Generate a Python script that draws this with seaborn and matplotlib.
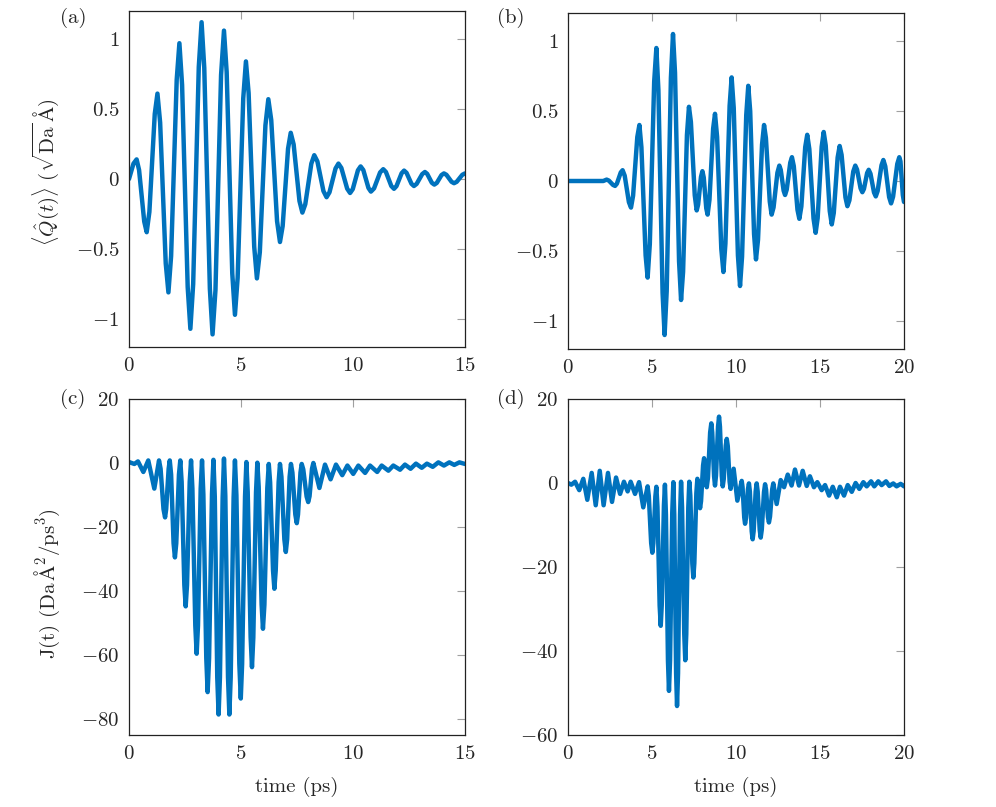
import matplotlib
matplotlib.use('Agg')
import matplotlib.pyplot as plt
import seaborn as sns

sns.set_style('white')
plt.rcParams['font.family'] = 'serif'
plt.rcParams['font.serif'] = ['cmr10', 'DejaVu Serif']
plt.rcParams['mathtext.fontset'] = 'cm'
plt.rcParams['axes.formatter.use_mathtext'] = True

# (a) <Q(t)>, excitation 1 (extrema + shoulders)
a_time = [0.0, 0.2, 0.34, 0.45, 0.68, 0.79, 0.91, 1.15, 1.27, 1.39, 1.64, 1.76, 1.88, 2.13,
          2.25, 2.37, 2.62, 2.74, 2.865, 3.115, 3.24, 3.36, 3.61, 3.73, 3.86, 4.11, 4.24,
          4.36, 4.61, 4.73, 4.85, 5.10, 5.22, 5.34, 5.59, 5.71, 5.84, 6.09, 6.22, 6.35,
          6.61, 6.74, 6.86, 7.10, 7.22, 7.35, 7.61, 7.74, 7.87, 8.14, 8.27, 8.41, 8.68,
          8.82, 8.95, 9.22, 9.35, 9.48, 9.74, 9.87, 9.99, 10.22, 10.34, 10.46, 10.69, 10.8,
          10.94, 11.21, 11.35, 11.47, 11.71, 11.83, 11.94, 12.17, 12.28, 12.39, 12.61,
          12.72, 12.84, 13.09, 13.21, 13.31, 13.52, 13.63, 13.74, 13.95, 14.06, 14.17,
          14.40, 14.51, 14.63, 14.88, 15.0]
a_q = [0.0, 0.11, 0.14, 0.064, -0.304, -0.38, -0.235, 0.465, 0.61, 0.403, -0.603, -0.81,
       -0.55, 0.71, 0.97, 0.672, -0.772, -1.07, -0.75, 0.80, 1.12, 0.794, -0.784, -1.11,
       -0.793, 0.743, 1.06, 0.764, -0.674, -0.97, -0.706, 0.576, 0.84, 0.614, -0.484,
       -0.71, -0.523, 0.383, 0.57, 0.421, -0.301, -0.45, -0.336, 0.216, 0.33, 0.247,
       -0.157, -0.24, -0.18, 0.11, 0.17, 0.126, -0.086, -0.13, -0.095, 0.075, 0.11, 0.079,
       -0.069, -0.10, -0.072, 0.062, 0.09, 0.064, -0.064, -0.09, -0.067, 0.047, 0.07, 0.05,
       -0.05, -0.07, -0.051, 0.041, 0.06, 0.044, -0.034, -0.05, -0.035, 0.035, 0.05,
       0.037, -0.027, -0.04, -0.028, 0.028, 0.04, 0.03, -0.02, -0.03, -0.02, 0.03, 0.04]

# (b) <Q(t)>, excitation 2
b_time = [0.0, 2.1, 2.3, 2.43, 2.68, 2.8, 2.91, 3.14, 3.25, 3.375, 3.625, 3.75, 3.875,
          4.125, 4.25, 4.37, 4.62, 4.74, 4.87, 5.13, 5.26, 5.38, 5.63, 5.75, 5.875, 6.125,
          6.25, 6.37, 6.61, 6.73, 6.85, 7.08, 7.2, 7.315, 7.545, 7.66, 7.745, 7.915, 8.0,
          8.08, 8.23, 8.31, 8.42, 8.64, 8.75, 8.875, 9.125, 9.25, 9.37, 9.62, 9.74, 9.865,
          10.115, 10.24, 10.36, 10.61, 10.73, 10.845, 11.075, 11.19, 11.31, 11.55, 11.67,
          11.78, 12.01, 12.12, 12.235, 12.465, 12.58, 12.665, 12.835, 12.92, 13.02, 13.23,
          13.33, 13.44, 13.66, 13.77, 13.89, 14.12, 14.24, 14.365, 14.615, 14.74, 14.86,
          15.10, 15.22, 15.34, 15.58, 15.7, 15.82, 16.05, 16.17, 16.285, 16.515, 16.63,
          16.75, 16.98, 17.1, 17.205, 17.415, 17.52, 17.615, 17.805, 17.9, 18.005, 18.215,
          18.32, 18.43, 18.66, 18.77, 18.885, 19.115, 19.23, 19.35, 19.6, 19.72, 19.79,
          19.93, 20.0]
b_q = [0.0, 0.0, 0.01, 0.003, -0.028, -0.035, -0.019, 0.061, 0.077, 0.038, -0.151, -0.19,
       -0.104, 0.314, 0.40, 0.241, -0.531, -0.69, -0.45, 0.71, 0.95, 0.651, -0.80, -1.10,
       -0.786, 0.736, 1.05, 0.773, -0.573, -0.85, -0.649, 0.329, 0.53, 0.422, -0.102,
       -0.21, -0.169, 0.029, 0.07, 0.025, -0.195, -0.24, -0.135, 0.375, 0.48, 0.315,
       -0.485, -0.65, -0.447, 0.537, 0.74, 0.522, -0.532, -0.75, -0.541, 0.471, 0.68,
       0.499, -0.379, -0.56, -0.42, 0.26, 0.40, 0.307, -0.147, -0.24, -0.189, 0.059, 0.11,
       0.079, -0.069, -0.10, -0.061, 0.131, 0.17, 0.106, -0.206, -0.27, -0.182, 0.242,
       0.33, 0.228, -0.268, -0.37, -0.265, 0.245, 0.35, 0.254, -0.214, -0.31, -0.228,
       0.168, 0.25, 0.187, -0.117, -0.18, -0.138, 0.068, 0.11, 0.082, -0.052, -0.08,
       -0.057, 0.057, 0.08, 0.052, -0.082, -0.11, -0.072, 0.112, 0.15, 0.105, -0.115,
       -0.16, -0.112, 0.122, 0.17, 0.14, -0.10, -0.15]

# (c) J(t), excitation 1
c_time = [0.0, 0.24, 0.4, 0.64, 0.86, 1.13, 1.34, 1.41, 1.54, 1.61, 1.66, 1.77, 1.82, 1.88,
          1.99, 2.05, 2.11, 2.23, 2.29, 2.35, 2.47, 2.53, 2.59, 2.71, 2.77, 2.83, 2.96,
          3.02, 3.08, 3.20, 3.26, 3.32, 3.45, 3.51, 3.575, 3.705, 3.77, 3.83, 3.94, 4.0,
          4.06, 4.18, 4.24, 4.30, 4.42, 4.48, 4.54, 4.67, 4.73, 4.795, 4.925, 4.99, 5.05,
          5.18, 5.24, 5.30, 5.43, 5.49, 5.55, 5.67, 5.73, 5.79, 5.92, 5.98, 6.045, 6.175,
          6.24, 6.30, 6.43, 6.49, 6.55, 6.68, 6.74, 6.805, 6.935, 7.0, 7.06, 7.17, 7.23,
          7.295, 7.425, 7.49, 7.545, 7.655, 7.71, 7.78, 7.93, 8.0, 8.06, 8.17, 8.23, 8.5,
          8.75, 9.0, 9.24, 9.52, 9.75, 10.01, 10.24, 10.54, 10.76, 11.08, 11.28, 11.58,
          11.8, 12.1, 12.32, 12.57, 12.81, 13.07, 13.3, 13.56, 13.81, 14.06, 14.3, 14.52,
          14.75, 15.0]
c_j = [0.3, -0.3, 0.5, -2.8, 0.8, -8.0, 0.8, -1.8, -14.4, -17.0, -14.4, -1.8, 0.8, -3.6,
       -25.1, -29.5, -25.1, -3.6, 0.8, -5.9, -38.1, -44.8, -38.1, -5.9, 0.8, -8.0, -50.8,
       -59.6, -50.8, -8.0, 0.8, -9.8, -61.0, -71.6, -61.0, -9.6, 1.0, -10.6, -67.0,
       -78.6, -66.9, -10.9, 1.4, -10.3, -66.9, -78.6, -67.0, -10.8, 0.8, -10.1, -62.7,
       -73.6, -62.8, -10.5, 0.3, -9.1, -54.4, -63.8, -54.5, -9.2, 0.1, -7.5, -44.2,
       -51.8, -44.3, -7.8, -0.3, -6.0, -33.6, -39.3, -33.6, -6.0, -0.3, -4.3, -23.8,
       -27.8, -23.8, -4.3, -0.3, -3.0, -16.1, -18.8, -16.1, -3.0, -0.3, -2.0, -10.5,
       -12.2, -10.4, -1.8, 0.0, -7.8, -0.5, -5.1, -0.5, -3.8, -0.8, -3.4, -0.8, -3.1,
       -0.8, -2.8, -0.8, -2.4, -0.8, -2.1, -0.5, -1.8, -0.2, -1.5, -0.2, -1.2, 0.2, -0.8,
       0.2, -0.6, 0.2, -0.3]

# (d) J(t), excitation 2
d_time = [0.0, 0.2, 0.42, 0.67, 0.91, 1.15, 1.41, 1.65, 1.89, 2.12, 2.38, 2.62, 2.86, 3.1,
          3.33, 3.55, 3.73, 3.99, 4.23, 4.48, 4.74, 4.81, 4.95, 5.02, 5.08, 5.20, 5.26,
          5.325, 5.455, 5.52, 5.58, 5.71, 5.77, 5.83, 5.95, 6.01, 6.075, 6.205, 6.27,
          6.325, 6.435, 6.49, 6.55, 6.67, 6.73, 6.79, 6.92, 6.98, 7.04, 7.16, 7.22, 7.28,
          7.40, 7.46, 7.52, 7.64, 7.7, 7.86, 7.92, 8.04, 8.1, 8.14, 8.22, 8.26, 8.33, 8.46,
          8.53, 8.585, 8.695, 8.75, 8.81, 8.93, 8.99, 9.045, 9.155, 9.21, 9.27, 9.39, 9.45,
          9.51, 9.62, 9.68, 9.86, 10.08, 10.34, 10.39, 10.49, 10.54, 10.6, 10.71, 10.77,
          10.825, 10.935, 10.99, 11.05, 11.17, 11.23, 11.29, 11.41, 11.47, 11.535, 11.665,
          11.73, 11.79, 11.90, 11.96, 12.025, 12.155, 12.22, 12.42, 12.66, 12.86, 13.08,
          13.31, 13.51, 13.75, 13.97, 14.21, 14.4, 14.64, 14.84, 15.1, 15.3, 15.54, 15.76,
          16.0, 16.19, 16.43, 16.65, 16.89, 17.12, 17.34, 17.58, 17.78, 18.04, 18.23,
          18.47, 18.67, 18.93, 19.13, 19.36, 19.56, 19.8, 20.0]
d_j = [0.0, -0.4, 0.3, -1.7, 1.0, -4.0, 2.4, -5.3, 2.9, -5.3, 2.4, -4.5, 1.3, -2.6, 0.3,
       -2.0, 0.3, -2.6, 0.2, -5.8, -0.8, -3.1, -14.3, -16.6, -14.3, -3.2, -0.9, -5.7,
       -29.2, -34.0, -29.1, -5.3, -0.4, -7.6, -42.3, -49.5, -42.2, -7.1, 0.2, -7.6,
       -45.3, -53.1, -45.3, -7.5, 0.3, -5.9, -36.0, -42.2, -36.0, -5.9, 0.3, -3.0, -19.2,
       -22.5, -19.1, -2.4, 1.0, -6.0, -4.3, 4.2, 5.9, 4.9, 0.0, -1.0, 1.2, 12.0, 14.2,
       12.0, 1.6, -0.6, 1.8, 13.4, 15.8, 13.4, 1.6, -0.8, 0.9, 8.9, 10.5, 8.8, 0.3, -1.4,
       3.4, -4.2, 0.5, -1.0, -8.2, -9.7, -8.3, -1.5, -0.1, -2.0, -11.5, -13.4, -11.5,
       -2.0, -0.1, -2.0, -11.1, -13.0, -11.1, -2.2, -0.3, -1.6, -8.1, -9.4, -8.0, -1.5,
       -0.1, -5.0, 0.7, -1.0, 2.0, -0.6, 3.2, -0.6, 2.9, -0.7, 1.6, -1.0, 0.2, -1.7,
       -0.5, -3.0, -0.9, -3.4, -0.9, -3.0, -0.5, -2.1, 0.0, -1.4, 0.2, -0.8, 0.4, -0.8,
       0.4, -0.5, 0.4, -0.7, -0.1, -0.8, -0.2, -0.8]

q_ticks = [-1, -0.5, 0, 0.5, 1]
q_labels = ['$-1$', '$-0.5$', '$0$', '$0.5$', '$1$']
c_ticks = [-80, -60, -40, -20, 0, 20]
c_labels = ['$-80$', '$-60$', '$-40$', '$-20$', '$0$', '$20$']
d_ticks = [-60, -40, -20, 0, 20]
d_labels = ['$-60$', '$-40$', '$-20$', '$0$', '$20$']
x15_ticks = [0, 5, 10, 15]
x20_ticks = [0, 5, 10, 15, 20]

blue = '#0072bd'
W, H = 996, 807
fig = plt.figure(figsize=(W / 100, H / 100), dpi=100)

def rect(left, top, right, bottom):
    return [left / W, 1 - bottom / H, (right - left) / W, (bottom - top) / H]

panels = [
    (rect(129, 11, 465, 347), a_time, a_q, (0, 15), (-1.2, 1.2), x15_ticks, q_ticks, q_labels, '(a)', (60, 8)),
    (rect(568, 13, 904, 349), b_time, b_q, (0, 20), (-1.2, 1.2), x20_ticks, q_ticks, q_labels, '(b)', (497, 8)),
    (rect(129, 399, 465, 735), c_time, c_j, (0, 15), (-85, 20), x15_ticks, c_ticks, c_labels, '(c)', (60, 389)),
    (rect(568, 399, 904, 735), d_time, d_j, (0, 20), (-60, 20), x20_ticks, d_ticks, d_labels, '(d)', (497, 389)),
]

axes = []
for r, t, v, xl, yl, xt, yt, ylab, tag, tpos in panels:
    ax = fig.add_axes(r)
    sns.lineplot(x=t, y=v, ax=ax, color=blue, linewidth=3.2, sort=False)
    ax.set_xlim(*xl)
    ax.set_ylim(*yl)
    ax.set_xticks(xt)
    ax.set_xticklabels(['$%d$' % x for x in xt])
    ax.set_yticks(yt)
    ax.set_yticklabels(ylab)
    ax.tick_params(direction='in', top=True, right=True, length=6, width=0.8,
                   color='#a0a0a0', labelsize=15, pad=7)
    for s in ax.spines.values():
        s.set_color('#222222')
        s.set_linewidth(0.9)
    fig.text(tpos[0] / W, 1 - tpos[1] / H, tag, fontsize=15, ha='left', va='top')
    axes.append(ax)

axes[0].set_ylabel(r'$\langle\hat{Q}(t)\rangle\ (\sqrt{\mathrm{Da}}\,\mathrm{\AA})$', fontsize=15)
axes[0].yaxis.set_label_coords(-0.2, 0.52)
axes[2].set_ylabel(r'$\mathrm{J(t)\ (Da\,\AA^2/ps^3)}$', fontsize=15)
axes[2].yaxis.set_label_coords(-0.2, 0.45)
for ax in axes[2:]:
    ax.set_xlabel('time (ps)', fontsize=15, labelpad=10)

fig.savefig('out.png', dpi=100)
